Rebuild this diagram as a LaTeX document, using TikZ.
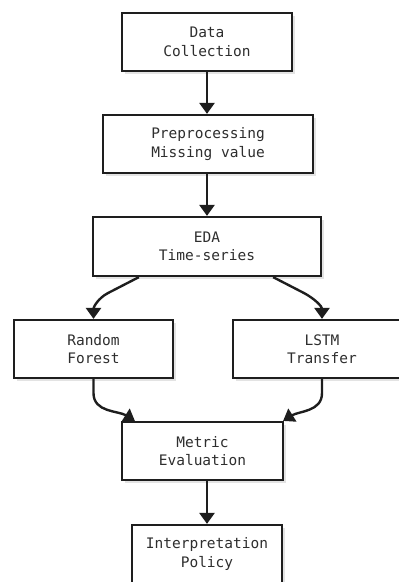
\documentclass[tikz,border=0pt]{standalone}
\usepackage{fontspec}
\setmonofont{DejaVu Sans Mono}
\usetikzlibrary{arrows.meta,calc,shadows}
\definecolor{linec}{HTML}{1E1E1E}
\definecolor{textc}{HTML}{2E2E2E}
\begin{document}
\begin{tikzpicture}[x=1pt,y=-1pt,
  box/.style={draw=linec, line width=2.2pt, fill=white, align=center,
    font=\ttfamily\fontsize{14.5}{18.5}\selectfont, text=textc, inner sep=0pt,
    minimum height=58pt,
    drop shadow={opacity=0.18, shadow xshift=2.5pt, shadow yshift=-2.5pt, fill=black!60}},
  arr/.style={draw=linec, line width=2.4pt, -{Triangle[length=11pt,width=15pt]}}]
\useasboundingbox (0,0) rectangle (399,582);
\clip (0,0) rectangle (399,582);

\node[box, minimum width=170pt] (dc) at (207,42) {Data\\Collection};
\node[box, minimum width=210pt] (pp) at (208,144) {Preprocessing\\Missing value};
\node[box, minimum width=228pt, minimum height=59pt] (eda) at (207,246.5) {EDA\\Time-series};
\node[box, minimum width=159pt] (rf) at (93.5,349) {Random\\Forest};
\node[box, minimum width=178pt] (lstm) at (322,349) {LSTM\\Transfer};
\node[box, minimum width=161pt] (me) at (202.5,451) {Metric\\Evaluation};
\node[box, minimum width=150pt] (ip) at (207,554) {Interpretation\\Policy};

\draw[arr] (dc.south) -- (dc.south |- pp.north);
\draw[arr] (eda.north |- pp.south) -- (eda.north);
\draw[arr] ($(eda.south west)+(47,0)$) -- ($(eda.south west)+(16,16)$)
  to[out=208,in=90] (rf.north);
\draw[arr] ($(eda.south east)+(-49,0)$) -- ($(eda.south east)+(-18,16)$)
  to[out=-28,in=90] (lstm.north);
\draw[arr] (rf.south) -- ($(rf.south)+(0,14)$)
  to[out=-90,in=148] ($(me.north west)+(14,0)$);
\draw[arr] (lstm.south) -- ($(lstm.south)+(0,14)$)
  to[out=-90,in=32] ($(me.north east)+(-1,0)$);
\draw[arr] (ip.north |- me.south) -- (ip.north);
\end{tikzpicture}
\end{document}
